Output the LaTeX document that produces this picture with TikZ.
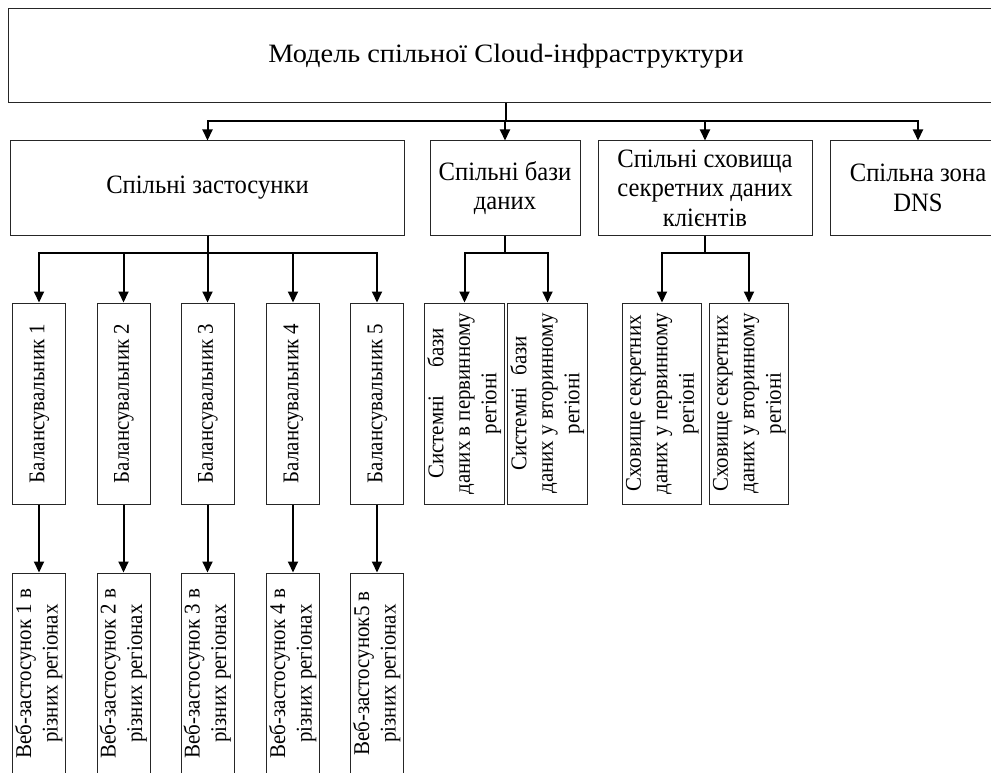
\documentclass[tikz,border=0pt]{standalone}
\usepackage{fontspec}
\setmainfont{Liberation Serif}
\newfontfamily\shyrokyi[FakeStretch=1.07]{Liberation Serif}
\newfontfamily\vuzkyi[FakeStretch=0.93]{Liberation Serif}
\usepackage{graphicx}
\usetikzlibrary{positioning,arrows.meta}

\newcommand{\vtext}[1]{\rotatebox{90}{\begin{tabular}{@{}c@{}}#1\end{tabular}}}

\tikzset{
  blok/.style={draw=black!85, line width=1pt, inner sep=0pt, align=center,
    font=\vuzkyi\fontsize{26.5}{29.5}\selectfont},
  vblok/.style={draw=black!85, line width=1pt, inner sep=0pt, minimum height=201,
    font=\vuzkyi\fontsize{22.5}{26.5}\selectfont},
  strilka/.style={line width=2pt, -{Triangle[width=10pt,length=11pt]}},
}

\begin{document}
\begin{tikzpicture}[x=1pt,y=-1pt]
    \useasboundingbox (0,0) rectangle (991,773);
    % Верхній блок
    \node[blok, minimum width=996, minimum height=94, font=\shyrokyi\fontsize{26.5}{30}\selectfont] (model) at (506,56) {Модель спільної Cloud-інфраструктури};
    % Рівень 1
    \node[blok, minimum width=394, minimum height=94] (apps) at (207.5,188) {Спільні застосунки};
    \node[blok, minimum width=150, minimum height=94] (db) at (505,188) {Спільні бази\\даних};
    \node[blok, minimum width=214, minimum height=94] (vault) at (705,188) {Спільні сховища\\секретних даних\\клієнтів};
    \node[blok, minimum width=176, minimum height=94] (dns) at (918,188) {Спільна зона\\DNS};
    % Балансувальники
    \node[vblok, minimum width=53] (bal1) at (39,403.5) {\vtext{Балансувальник 1}};
    \node[vblok, minimum width=53] (bal2) at (123.5,403.5) {\vtext{Балансувальник 2}};
    \node[vblok, minimum width=53] (bal3) at (207.5,403.5) {\vtext{Балансувальник 3}};
    \node[vblok, minimum width=53] (bal4) at (293,403.5) {\vtext{Балансувальник 4}};
    \node[vblok, minimum width=53] (bal5) at (377,403.5) {\vtext{Балансувальник 5}};
    % Бази даних і сховища
    \node[vblok, minimum width=77] (sdb1) at (464.5,403.5) {\vtext{Системні\hspace{28pt}бази\\даних в первинному\\регіоні}};
    \node[vblok, minimum width=77] (sdb2) at (547.5,403.5) {\vtext{Системні\hspace{12pt}бази\\даних у вторинному\\регіоні}};
    \node[vblok, minimum width=76] (sv1) at (662,403.5) {\vtext{Сховище секретних\\даних у первинному\\регіоні}};
    \node[vblok, minimum width=76] (sv2) at (749,403.5) {\vtext{Сховище секретних\\даних у вторинному\\регіоні}};
    % Веб-застосунки
    \node[vblok, minimum width=53] (web1) at (39,673.5) {\vtext{Веб-застосунок 1 в\\різних регіонах}};
    \node[vblok, minimum width=53] (web2) at (123.5,673.5) {\vtext{Веб-застосунок 2 в\\різних регіонах}};
    \node[vblok, minimum width=53] (web3) at (207.5,673.5) {\vtext{Веб-застосунок 3 в\\різних регіонах}};
    \node[vblok, minimum width=53] (web4) at (293,673.5) {\vtext{Веб-застосунок 4 в\\різних регіонах}};
    \node[vblok, minimum width=53] (web5) at (377,673.5) {\vtext{Веб-застосунок5 в\\різних регіонах}};

    % Шини
    \coordinate (bus0) at (0,121);
    \coordinate (bus1) at (0,253);
    \foreach \n in {apps,db,vault,dns}
        \draw[strilka] (model.south) |- (bus0 -| \n.north) -- (\n.north);
    \foreach \n in {bal1,bal2,bal3,bal4,bal5}
        \draw[strilka] (apps.south) |- (bus1 -| \n.north) -- (\n.north);
    \foreach \n in {sdb1,sdb2}
        \draw[strilka] (db.south) |- (bus1 -| \n.north) -- (\n.north);
    \foreach \n in {sv1,sv2}
        \draw[strilka] (vault.south) |- (bus1 -| \n.north) -- (\n.north);
    \foreach \i in {1,...,5}
        \draw[strilka] (bal\i.south) -- (web\i.north);
\end{tikzpicture}
\end{document}
